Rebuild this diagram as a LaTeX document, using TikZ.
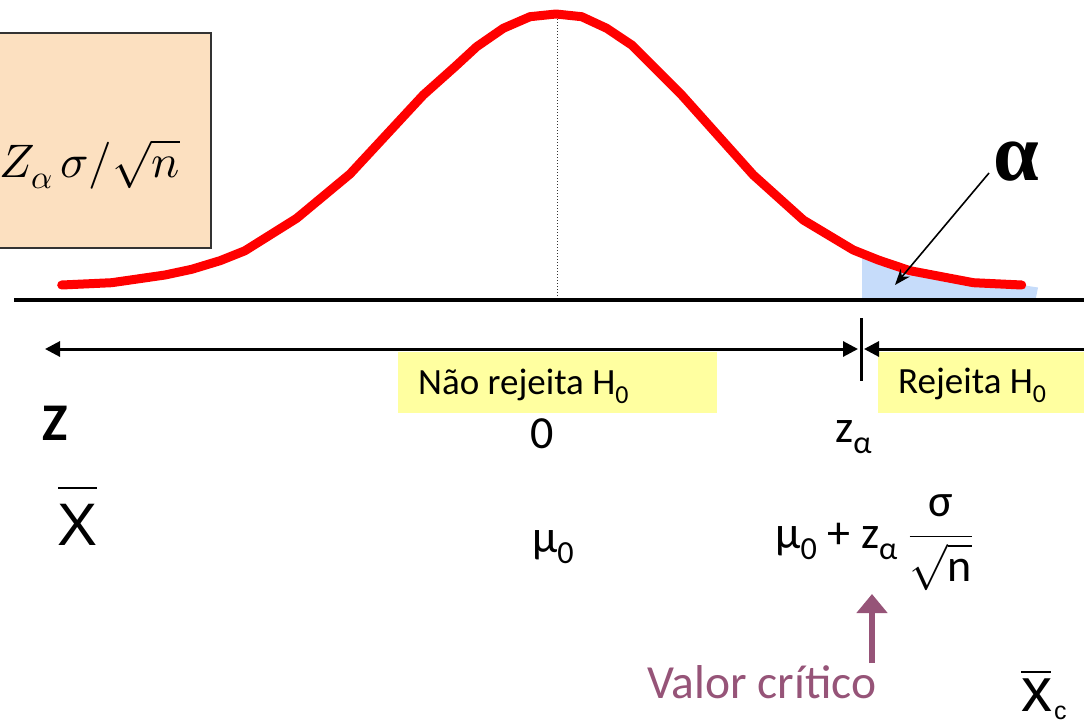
\documentclass[tikz,border=0pt]{standalone}
\usepackage{fontspec}
\usepackage{amsmath}
\usepackage{unicode-math}
\setmathfont{Latin Modern Math}
\newfontfamily\calfont{Carlito}
\newfontfamily\arialfont{Liberation Sans}
\newfontfamily\tnrfont{Liberation Serif}
\usetikzlibrary{arrows.meta}
\definecolor{curvered}{RGB}{255,0,0}
\definecolor{tailblue}{RGB}{198,220,250}
\definecolor{hyellow}{RGB}{255,255,160}
\definecolor{peach}{RGB}{252,224,192}
\definecolor{critpurple}{RGB}{150,84,120}
\tikzset{
  lbl/.style={inner sep=0pt, font=\calfont\fontsize{46}{50}\selectfont},
  hyp/.style={inner sep=0pt, font=\calfont\fontsize{37}{40}\selectfont},
  axisarrow/.style={line width=3pt, -{Triangle[length=15pt,width=15pt]}},
  axisboth/.style={line width=3pt, {Triangle[length=15pt,width=15pt]}-{Triangle[length=15pt,width=15pt]}},
}
\begin{document}
\begin{tikzpicture}[x=1pt,y=-1pt]
\useasboundingbox (0,0) rectangle (1084,725);
% formula box
\fill[peach] (-2,33) rectangle (211,248);
\draw[line width=1.5pt, draw=black!80] (-2,33) -- (211,33) -- (211,248) -- (-2,248);
\node[inner sep=0pt, anchor=base west, font=\fontsize{47}{50}\selectfont] (boxf) at (-1,177) {$Z_{\alpha}\,\sigma/\sqrt{n}$};
% tail area
\fill[tailblue] (862,257) -- (878.3,260) -- (910,270.7) -- (973.3,282.7) -- (1021.7,285) -- (1038,287.5) -- (1035.5,300) -- (862,300) -- cycle;
% dotted center line
\draw[dotted, line width=1pt, black!80] (557.5,16) -- (557.5,300);
% baseline
\draw[line width=4.5pt] (14,300) -- (1084,300);
% curve
\draw[curvered, line width=9pt, line cap=round, line join=round]
  (61.7,285) -- (111.7,282.7) -- (165,275) -- (191.7,269.3) -- (220,260.7) -- (245,250.7)
  -- (296.7,218.3) -- (350,174) -- (423.3,95) -- (455,66.7) -- (476.7,46.7) -- (503.3,28.3)
  -- (530,16.7) -- (556,14) -- (581.7,16.7) -- (606.7,28.3) -- (631.7,45) -- (681.7,95)
  -- (753.3,175) -- (803.3,220) -- (853.3,250) -- (878.3,260) -- (910,270.7) -- (973.3,282.7)
  -- (1021.7,285);
% alpha label and arrow
\node[inner sep=0pt, anchor=base west, font=\tnrfont\bfseries\fontsize{82}{84}\selectfont] (alpha) at (993,180) {α};
\coordinate (alphastart) at (989,173);
\coordinate (alphatip) at (895,285);
\draw[line width=1.6pt, -{Stealth[length=16pt,width=12pt]}] (alphastart) -- (alphatip);
% hypothesis boxes
\node[fill=hyellow, minimum width=319pt, minimum height=61pt, inner sep=0pt] (nrbox) at (557.5,382.5) {};
\node[fill=hyellow, minimum width=206pt, minimum height=61pt, inner sep=0pt] (rbox) at (981,382.5) {};
\node[hyp, anchor=base west] (nrtext) at (418,394) {Não rejeita H\textsubscript{0}};
\node[hyp, anchor=base west] (rtext) at (898,393) {Rejeita H\textsubscript{0}};
% axis arrows
\coordinate (leftend) at (45,349);
\coordinate (critleft) at (858,349);
\coordinate (critright) at (864,349);
\coordinate (rightend) at (1084,349);
\coordinate (ticktop) at (861,318);
\coordinate (tickbot) at (861,381);
\draw[axisboth] (leftend) -- (critleft);
\draw[axisarrow] (rightend) -- (critright);
\draw[line width=3pt] (ticktop) -- (tickbot);
% z row
\node[inner sep=0pt, anchor=base west, font=\calfont\bfseries\fontsize{53}{56}\selectfont] (zlab) at (42,440) {Z};
\node[lbl, anchor=base] (zero) at (542,448) {0};
\node[lbl, anchor=base west] (zalpha) at (835,442) {z\textsubscript{α}};
% xbar row
\node[inner sep=0pt, anchor=base west, font=\arialfont\fontsize{60}{64}\selectfont] (xbar) at (57,545) {X};
\draw[line width=2.5pt] (58,488) -- (97,488);
\node[lbl, anchor=base west] (mu0) at (532,552) {μ\textsubscript{0}};
\node[lbl, anchor=base west] (crit) at (775,548) {μ\textsubscript{0} + z\textsubscript{α} $\dfrac{\text{σ}}{\sqrt{\text{n}}}$};
% valor critico
\node[inner sep=0pt, anchor=base west, text=critpurple, font=\calfont\fontsize{47.5}{50}\selectfont] (vc) at (647,698) {Valor crítico};
\coordinate (pbot) at (872,663);
\coordinate (ptop) at (872,594);
\draw[critpurple, line width=6pt, -{Triangle[length=19pt,width=30pt]}] (pbot) -- (ptop);
% xbar_c
\node[inner sep=0pt, anchor=base west, font=\arialfont\fontsize{62}{64}\selectfont] (xc) at (1021,711) {x\hspace{2pt}\raisebox{-8pt}{\fontsize{25}{25}\selectfont c}};
\draw[line width=2.5pt] (1021,672) -- (1051,672);
\end{tikzpicture}
\end{document}
